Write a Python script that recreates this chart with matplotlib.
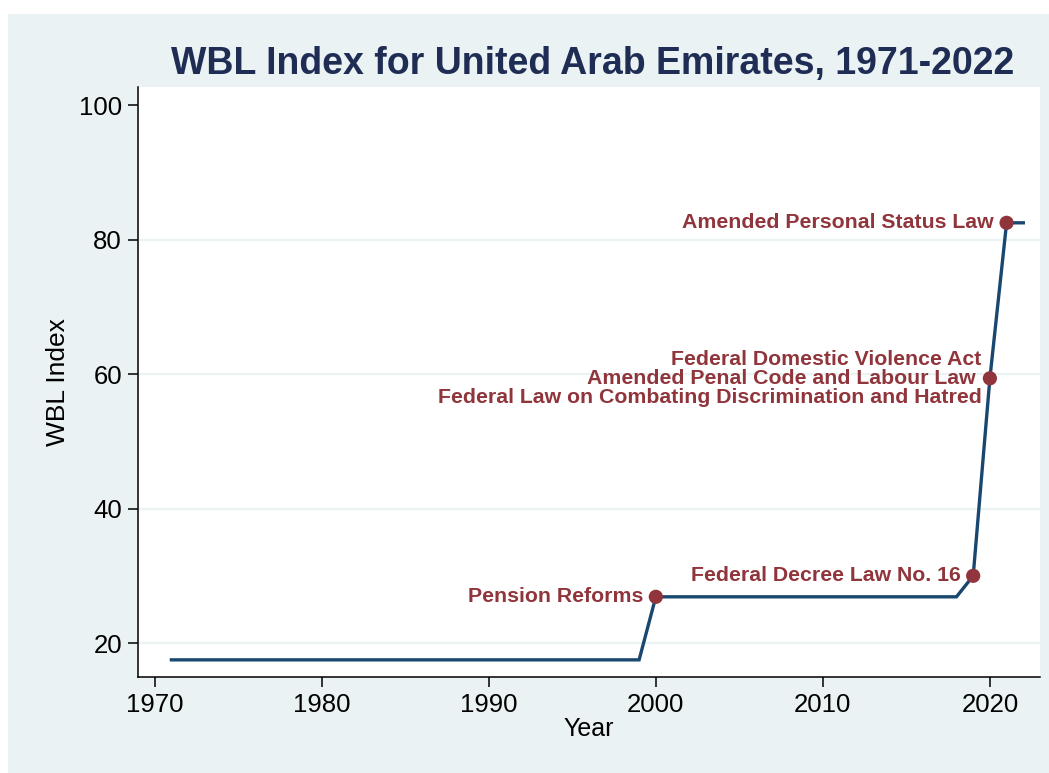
import matplotlib
matplotlib.use("Agg")
import matplotlib.pyplot as plt
from matplotlib.patches import Rectangle

plt.rcParams['font.family'] = ['Liberation Sans', 'DejaVu Sans']

years = [1971, 1972, 1973, 1974, 1975, 1976, 1977, 1978, 1979, 1980,
         1981, 1982, 1983, 1984, 1985, 1986, 1987, 1988, 1989, 1990,
         1991, 1992, 1993, 1994, 1995, 1996, 1997, 1998, 1999, 2000,
         2001, 2002, 2003, 2004, 2005, 2006, 2007, 2008, 2009, 2010,
         2011, 2012, 2013, 2014, 2015, 2016, 2017, 2018, 2019, 2020,
         2021, 2022]
wbl = [17.5, 17.5, 17.5, 17.5, 17.5, 17.5, 17.5, 17.5, 17.5, 17.5,
       17.5, 17.5, 17.5, 17.5, 17.5, 17.5, 17.5, 17.5, 17.5, 17.5,
       17.5, 17.5, 17.5, 17.5, 17.5, 17.5, 17.5, 17.5, 17.5, 26.875,
       26.875, 26.875, 26.875, 26.875, 26.875, 26.875, 26.875, 26.875, 26.875, 26.875,
       26.875, 26.875, 26.875, 26.875, 26.875, 26.875, 26.875, 26.875, 30.0, 59.375,
       82.5, 82.5]

event_years = [2000, 2019, 2020, 2021]
event_values = [26.875, 30.0, 59.375, 82.5]
event_labels = [
    "Pension Reforms",
    "Federal Decree Law No. 16",
    "Federal Domestic Violence Act\nAmended Penal Code and Labour Law \nFederal Law on Combating Discrimination and Hatred",
    "Amended Personal Status Law",
]
label_offsets = [-9, -9, -6, -9]

xticks = [1970, 1980, 1990, 2000, 2010, 2020]
yticks = [20, 40, 60, 80, 100]

W, H = 1049, 773
fig = plt.figure(figsize=(W / 100, H / 100), dpi=100)
fig.patch.set_facecolor('white')
bg = '#eaf2f3'
fig.patches.append(Rectangle((8 / W, 0), 1 - 8 / W, (H - 14) / H,
                             transform=fig.transFigure, facecolor=bg,
                             edgecolor='none', zorder=-10))

ax = fig.add_axes([138 / W, (H - 677) / H, (1040 - 138) / W, (677 - 87) / H])
ax.set_facecolor('white')

navy = '#1a476f'
maroon = '#90353b'

ax.plot(years, wbl, color=navy, lw=2.4, zorder=3, solid_joinstyle='miter')
ax.scatter(event_years, event_values, s=105, color=maroon, zorder=4, edgecolors='none')

for x, y, lab, off in zip(event_years, event_values, event_labels, label_offsets):
    ax.annotate(lab, (x, y), xytext=(off, 0), textcoords='offset points',
                ha='right', va='center', multialignment='right',
                color=maroon, fontsize=15.3, fontweight='bold',
                linespacing=1.0, zorder=5)

ax.set_xlim(1969, 2023)
ax.set_ylim(14.95, 102.7)
ax.set_xticks(xticks)
ax.set_yticks(yticks)
ax.tick_params(axis='both', labelsize=18.5, length=7.2, width=1.1, color='black', pad=4.3)

for yv in [20, 40, 60, 80]:
    ax.axhline(yv, color=bg, lw=1.6, zorder=1)

for s in ['top', 'right']:
    ax.spines[s].set_visible(False)
for s in ['left', 'bottom']:
    ax.spines[s].set_linewidth(1.1)

ax.set_xlabel('Year', fontsize=18, labelpad=0)
ax.set_ylabel('WBL Index', fontsize=19, labelpad=6.5)

fig.text(593 / W, (H - 74) / H, 'WBL Index for United Arab Emirates, 1971-2022',
         ha='center', va='baseline', fontsize=27, fontweight='bold', color='#1f2d55')

fig.savefig('out.png', dpi=100)
